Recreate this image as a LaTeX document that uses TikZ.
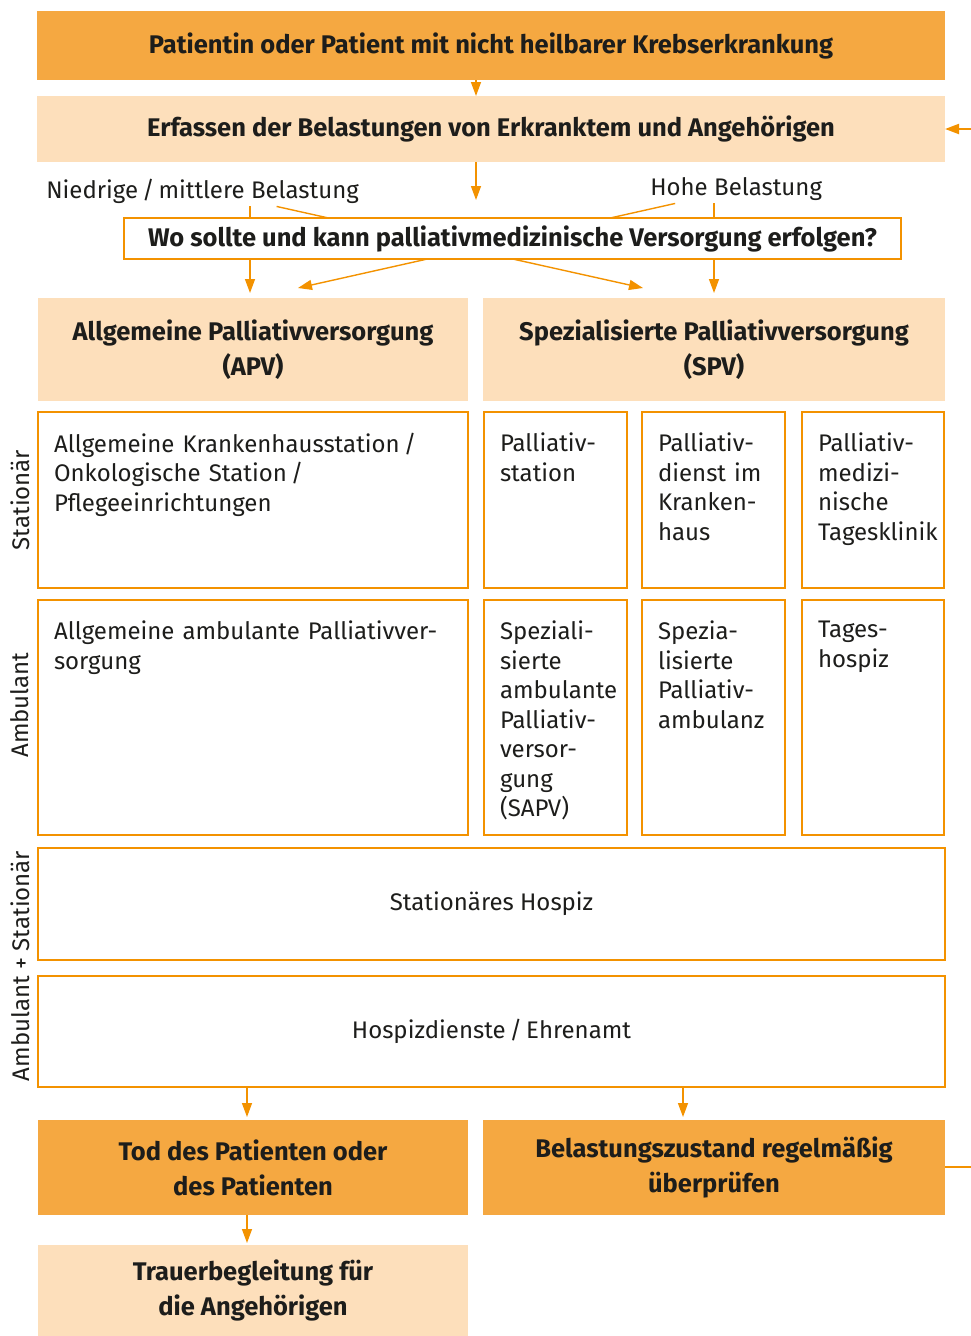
\documentclass[tikz,border=0pt]{standalone}
\usepackage{fontspec}
\setmainfont{Fira Sans}
\usepackage{tikz}
\usepackage{xcolor}
\usetikzlibrary{positioning,backgrounds,arrows.meta}
\definecolor{dunkel}{HTML}{F5A841}
\definecolor{hell}{HTML}{FDDFBB}
\definecolor{strich}{HTML}{F39200}
\definecolor{schrift}{HTML}{1D1D1B}
\newcommand{\oben}[2]{\parbox[c][#1][t]{\linewidth}{\raggedright #2}}

\begin{document}
\begin{tikzpicture}[x=1pt,y=-1pt,
  every node/.style={text=schrift,outer sep=0pt,font=\fontsize{24}{29.5}\selectfont},
  kasten/.style={anchor=north west,inner sep=0pt,align=center,font=\bfseries\fontsize{25.5}{35}\selectfont},
  kopf/.style={kasten,fill=dunkel},
  stufe/.style={kasten,fill=hell},
  zelle/.style={anchor=north west,draw=strich,line width=1.5pt,fill=white,inner xsep=16pt,inner ysep=21pt},
  pfeil/.style={draw=strich,line width=1.4pt,-{Triangle[length=14pt,width=10pt]}}]
\useasboundingbox (0,0) rectangle (970,1336);

\node[kopf,minimum width=908pt,minimum height=69pt] (pat) at (37,11) {Patientin oder Patient mit nicht heilbarer Krebserkrankung};
\node[stufe,minimum width=908pt,minimum height=66pt] (erf) at (37,96) {Erfassen der Belastungen von Erkranktem und Angehörigen};
\node[anchor=base west] (low) at (43,198) {Niedrige\,/\,mittlere Belastung};
\node[anchor=base west] (high) at (647,195) {Hohe Belastung};
\node[kasten,draw=strich,line width=1.5pt,fill=white,minimum width=777pt,minimum height=41pt] (frage) at (124,218) {Wo sollte und kann palliativmedizinische Versorgung erfolgen?};
\node[stufe,minimum width=430pt,minimum height=103pt] (apv) at (38,298) {Allgemeine Palliativversorgung\\(APV)};
\node[stufe,minimum width=462pt,minimum height=103pt] (spv) at (483,298) {Spezialisierte Palliativversorgung\\(SPV)};

\node[zelle,text width=398pt] (s1) at (38,412) {\oben{134pt}{Allgemeine Krankenhausstation\,/\\Onkologische Station\,/\\Pflegeeinrichtungen}};
\node[zelle,text width=111pt] (s2) at (484,412) {\oben{134pt}{Palliativ-\\station}};
\node[zelle,text width=111pt] (s3) at (642,412) {\oben{134pt}{Palliativ-\\dienst im\\Kranken-\\haus}};
\node[zelle,text width=110pt] (s4) at (802,412) {\oben{134pt}{Palliativ-\\medizi-\\nische\\Tagesklinik}};

\node[zelle,text width=398pt] (a1) at (38,600) {\oben{193pt}{Allgemeine ambulante Palliativver-\\sorgung}};
\node[zelle,text width=111pt] (a2) at (484,600) {\oben{193pt}{Speziali-\\sierte\\ambulante\\Palliativ-\\versor-\\gung\\(SAPV)}};
\node[zelle,text width=111pt] (a3) at (642,600) {\oben{193pt}{Spezia-\\lisierte\\Palliativ-\\ambulanz}};
\node[zelle,text width=110pt] (a4) at (802,600) {\oben{193pt}{Tages-\\hospiz}};

\node[zelle,inner sep=0pt,minimum width=907pt,minimum height=112pt] (hospiz) at (38,848) {Stationäres Hospiz};
\node[zelle,inner sep=0pt,minimum width=907pt,minimum height=111pt] (dienste) at (38,976) {Hospizdienste\,/\,Ehrenamt};

\node[rotate=90] (stat) at (20,500) {Stationär};
\node[rotate=90] (amb) at (20,705) {Ambulant};
\node[rotate=90] (beide) at (20,966) {Ambulant + Stationär};

\node[kopf,minimum width=430pt,minimum height=95pt] (tod) at (38,1120) {Tod des Patienten oder\\des Patienten};
\node[kopf,minimum width=462pt,minimum height=95pt] (bel) at (483,1120) {Belastungszustand regelmäßig\\überprüfen};
\node[stufe,minimum width=430pt,minimum height=91pt] (trauer) at (38,1245) {Trauerbegleitung für\\die Angehörigen};

\draw[pfeil] ([xshift=-15pt]pat.south) -- ([xshift=-15pt]erf.north);
\draw[pfeil,shorten >=18pt] ([xshift=-15pt]erf.south) -- ([xshift=-15pt]erf.south |- frage.north);
\begin{scope}[on background layer]
\draw[pfeil,shorten >=5pt] ([xshift=-3pt]low.south -| apv.north) -- ([xshift=-3pt]apv.north);
\draw[pfeil] ([xshift=74pt]low.south) -- ([xshift=-71pt,yshift=10pt]spv.north);
\draw[pfeil,shorten >=5pt] (high.south -| spv.north) -- (spv.north);
\draw[pfeil] ([xshift=-61pt]high.south) -- ([xshift=45pt,yshift=10pt]apv.north);
\end{scope}

\draw[pfeil,shorten >=3pt] ([xshift=-6pt]tod.north |- dienste.south) -- ([xshift=-6pt]tod.north);
\draw[pfeil,shorten >=3pt] ([xshift=-31pt]bel.north |- dienste.south) -- ([xshift=-31pt]bel.north);
\draw[pfeil,shorten >=2pt] ([xshift=-6pt]tod.south) -- ([xshift=-6pt]trauer.north);
\draw[pfeil,line width=2pt] ([yshift=0.5pt]bel.east) -- ++(45,0) |- (erf.east);
\end{tikzpicture}
\end{document}
